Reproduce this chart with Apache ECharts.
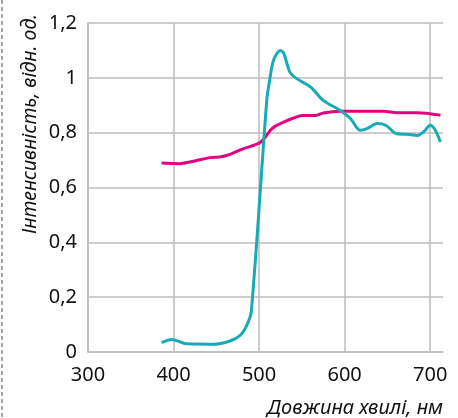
<!DOCTYPE html>
<html>
<head>
<meta charset="utf-8">
<script src="https://cdn.jsdelivr.net/npm/echarts@6/dist/echarts.min.js"></script>
<style>
  html, body { margin: 0; padding: 0; background: #fff; }
  #chart { width: 458px; height: 418px; }
</style>
</head>
<body>
<div id="chart"></div>
<script>
  // wavelength (nm) / relative intensity
  const cyanX = [386, 398, 413, 430, 446, 466, 478, 486, 491, 509, 512, 516, 520, 525, 529, 536, 544, 560, 575, 595, 607, 618, 626, 638, 648, 661, 673, 685, 693, 700, 706, 712]
  const cyanY = [0.034, 0.046, 0.031, 0.029, 0.028, 0.040, 0.061, 0.100, 0.150, 0.920, 0.985, 1.055, 1.085, 1.100, 1.088, 1.021, 0.997, 0.967, 0.918, 0.881, 0.851, 0.809, 0.815, 0.833, 0.827, 0.796, 0.794, 0.790, 0.805, 0.827, 0.809, 0.766]
  const magX = [386, 407, 425, 443, 454, 466, 482, 499, 505, 515, 525, 552, 566, 575, 595, 646, 661, 685, 712]
  const magY = [0.689, 0.687, 0.697, 0.709, 0.711, 0.721, 0.742, 0.76, 0.775, 0.815, 0.833, 0.863, 0.863, 0.872, 0.878, 0.878, 0.873, 0.873, 0.864]
  const xName = 'Довжина хвилі, нм'
  const yName = 'Інтенсивність, відн. од.'

  const pairs = (xs, ys) => xs.map((x, i) => [x, ys[i]])
  const fnt = '"Noto Sans", sans-serif'
  const gridColor = '#bdbdbd'
  const txt = '#111'

  const myChart = echarts.init(document.getElementById('chart'))
  const option = {
    animation: false,
    grid: { left: 88, right: 15, top: 23, bottom: 66 },
    xAxis: {
      type: 'value',
      min: 300,
      max: 715,
      interval: 100,
      axisLine: { lineStyle: { color: gridColor, width: 1.5 } },
      axisTick: { show: false },
      axisLabel: {
        color: txt, fontSize: 20, fontFamily: fnt, margin: 13,
        showMaxLabel: false
      },
      splitLine: {
        show: true,
        lineStyle: { color: [gridColor, gridColor, gridColor, gridColor, gridColor, 'rgba(0,0,0,0)'], width: 1.5 }
      }
    },
    yAxis: {
      type: 'value',
      min: 0,
      max: 1.2,
      interval: 0.2,
      axisLine: { show: true, lineStyle: { color: gridColor, width: 1.5 } },
      axisTick: { show: false },
      axisLabel: {
        color: txt, fontSize: 20, fontFamily: fnt, margin: 11,
        formatter: v => String(Math.round(v * 10) / 10).replace('.', ',')
      },
      splitLine: { show: true, lineStyle: { color: gridColor, width: 1.5 } }
    },
    series: [
      {
        type: 'line',
        data: pairs(magX, magY),
        smooth: 0.3,
        showSymbol: false,
        lineStyle: { color: '#e6007e', width: 3 }
      },
      {
        type: 'line',
        data: pairs(cyanX, cyanY),
        smooth: 0.3,
        showSymbol: false,
        lineStyle: { color: '#17aab7', width: 3 }
      }
    ],
    graphic: [
      {
        type: 'line',
        shape: { x1: 2, y1: 0, x2: 2, y2: 418 },
        style: { stroke: '#888', lineWidth: 1.5, lineDash: [4, 3] }
      },
      {
        type: 'text',
        x: 443, y: 408,
        style: {
          text: xName, fill: txt, fontSize: 20, fontStyle: 'italic',
          fontFamily: fnt, align: 'right', verticalAlign: 'middle'
        }
      },
      {
        type: 'text',
        x: 30, y: 234,
        rotation: Math.PI / 2,
        style: {
          text: yName, fill: txt, fontSize: 19.5, fontStyle: 'italic',
          fontFamily: fnt, align: 'left', verticalAlign: 'middle'
        }
      }
    ]
  }
  myChart.setOption(option)
</script>
</body>
</html>
